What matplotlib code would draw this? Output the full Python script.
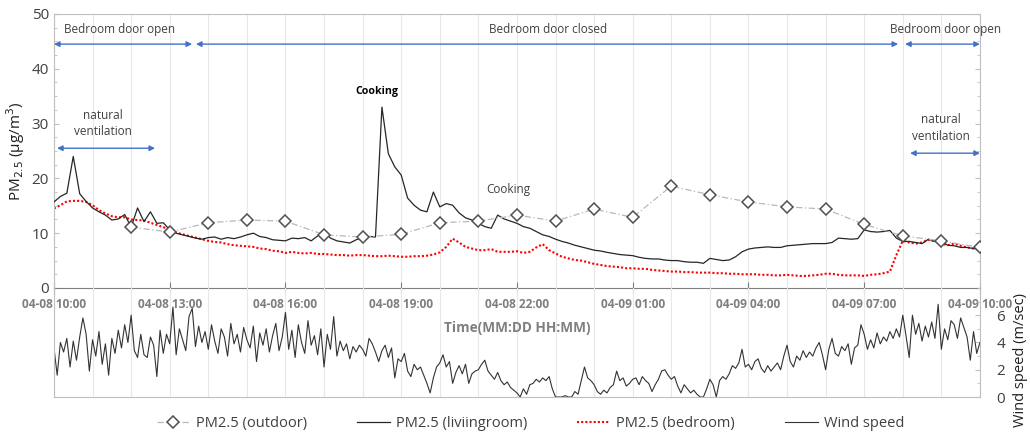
import numpy as np
import matplotlib.pyplot as plt
from matplotlib.ticker import MultipleLocator

plt.rcParams['font.family'] = ['Open Sans', 'DejaVu Sans']

# time axis: hours after 04-08 10:00
tick_labels = ['04-08 10:00', '04-08 13:00', '04-08 16:00', '04-08 19:00', '04-08 22:00',
               '04-09 01:00', '04-09 04:00', '04-09 07:00', '04-09 10:00']

# outdoor PM2.5, hourly from 12:00 to 10:00 next day
outdoor_hours = list(range(2, 25))
outdoor = [11.1, 10.2, 11.9, 12.4, 12.2, 9.7, 9.3, 9.8, 11.9, 12.2, 13.3, 12.2,
           14.4, 12.9, 18.6, 17.0, 15.7, 14.8, 14.4, 11.6, 9.5, 8.6, 7.4]

# living room PM2.5, every 10 min
livingroom = [15.7, 16.7, 17.3, 24.0, 17.2, 15.8,
              14.6, 13.9, 13.3, 12.4, 12.6, 13.4,
              11.1, 14.6, 12.1, 13.9, 11.8, 11.9,
              10.6, 10.0, 9.7, 9.4, 9.1, 8.9,
              9.2, 9.3, 8.9, 9.2, 9.0, 9.3,
              9.7, 10.0, 9.4, 9.2, 8.8, 8.7,
              8.6, 9.1, 9.0, 9.2, 8.6, 9.5,
              10.5, 9.1, 8.6, 8.4, 8.2, 8.8,
              9.2, 9.4, 9.3, 33.0, 24.5, 22.1,
              20.6, 16.4, 15.1, 14.2, 13.9, 17.5,
              14.8, 15.4, 15.1, 13.7, 12.8, 12.4,
              11.8, 11.2, 10.9, 13.3, 12.6, 12.2,
              11.8, 11.2, 10.9, 10.3, 9.7, 9.4,
              8.9, 8.5, 8.2, 7.8, 7.5, 7.2,
              6.9, 6.75, 6.5, 6.3, 6.1, 6.0,
              5.9, 5.6, 5.4, 5.3, 5.3, 5.1,
              5.0, 5.0, 4.8, 4.7, 4.7, 4.5,
              5.4, 5.2, 5.0, 5.1, 5.7, 6.6,
              7.1, 7.3, 7.4, 7.5, 7.4, 7.4,
              7.7, 7.8, 7.9, 8.0, 8.1, 8.1,
              8.1, 8.3, 9.1, 9.0, 8.9, 9.0,
              10.6, 10.3, 10.2, 10.3, 10.5, 9.1,
              8.5, 8.5, 8.3, 8.1, 8.9, 8.5,
              8.5, 7.8, 7.7, 7.4, 7.4, 7.2,
              7.1]

# bedroom PM2.5, every 10 min
bedroom = [14.5, 15.1, 15.8, 15.9, 15.9, 15.7,
           15.1, 14.2, 13.6, 13.1, 12.9, 12.9,
           12.5, 12.4, 12.3, 11.9, 11.5, 11.1,
           10.6, 10.1, 9.8, 9.5, 9.2, 8.9,
           8.6, 8.4, 8.3, 8.0, 7.8, 7.7,
           7.6, 7.5, 7.2, 7.1, 6.8, 6.7,
           6.4, 6.6, 6.4, 6.3, 6.4, 6.2,
           6.2, 6.1, 6.0, 6.0, 5.9, 6.0,
           6.0, 5.9, 5.8, 5.8, 5.9, 5.8,
           5.7, 5.7, 5.8, 5.8, 5.9, 6.1,
           6.5, 7.5, 9.0, 8.3, 7.5, 7.2,
           6.9, 6.9, 7.1, 6.6, 6.6, 6.6,
           6.7, 6.4, 6.6, 7.4, 8.0, 6.9,
           6.3, 5.7, 5.4, 5.1, 5.0, 4.7,
           4.4, 4.2, 4.0, 3.9, 3.8, 3.6,
           3.6, 3.5, 3.5, 3.3, 3.2, 3.1,
           3.0, 3.0, 2.9, 2.9, 2.8, 2.8,
           2.8, 2.7, 2.7, 2.6, 2.6, 2.5,
           2.5, 2.5, 2.4, 2.4, 2.3, 2.3,
           2.4, 2.3, 2.2, 2.2, 2.3, 2.4,
           2.6, 2.6, 2.4, 2.3, 2.3, 2.3,
           2.2, 2.4, 2.5, 2.7, 3.0, 6.0,
           8.6, 8.3, 8.1, 8.3, 8.8, 8.5,
           8.1, 7.8, 8.1, 7.7, 7.4, 7.2,
           6.9]

# wind speed (m/s), every 5 min
wind = [3.6, 1.6, 4.0, 3.3, 4.3, 2.2, 4.1, 2.7, 4.4, 5.8, 4.6, 1.9,
        4.2, 3.0, 4.8, 2.4, 3.9, 1.6, 4.3, 3.2, 4.9, 3.6, 5.3, 4.0,
        6.0, 3.4, 2.9, 4.6, 3.1, 2.9, 4.4, 3.8, 1.5, 4.9, 3.2, 4.6,
        3.9, 6.6, 3.1, 5.0, 4.2, 3.4, 5.9, 6.5, 3.7, 5.2, 4.0, 4.8,
        3.5, 5.3, 4.1, 3.2, 5.0, 4.4, 3.0, 5.4, 3.9, 4.6, 3.3, 5.1,
        4.2, 3.6, 5.2, 2.6, 4.7, 3.8, 5.0, 3.3, 4.5, 5.4, 3.4, 4.4,
        6.2, 3.5, 4.9, 2.9, 5.3, 4.0, 3.2, 5.6, 3.8, 4.5, 3.1, 5.0,
        2.2, 4.6, 3.5, 5.9, 3.0, 4.1, 3.4, 3.9, 2.8, 3.7, 3.3, 3.8,
        3.5, 3.0, 4.3, 3.9, 3.3, 2.6, 3.4, 3.8, 2.9, 3.6, 1.4, 2.8,
        2.6, 3.2, 1.9, 1.5, 2.4, 2.0, 2.2, 1.6, 1.0, 0.3, 1.4, 2.2,
        2.5, 3.1, 2.2, 2.6, 1.0, 1.8, 2.3, 1.7, 2.4, 1.0, 1.7, 1.9,
        2.0, 2.4, 2.7, 1.9, 1.6, 1.3, 1.8, 1.2, 0.9, 1.1, 0.7, 0.5,
        0.3, 0.0, 0.6, 0.2, 0.9, 1.0, 1.3, 1.1, 1.4, 1.2, 1.5, 0.6,
        0.0, 0.0, 0.0, 0.1, 0.0, 0.0, 0.4, 0.2, 1.2, 2.2, 1.4, 1.2,
        0.9, 0.4, 0.2, 0.5, 0.3, 0.7, 0.9, 1.9, 1.2, 1.4, 0.8, 1.0,
        1.3, 1.4, 0.9, 1.5, 1.2, 1.0, 0.4, 0.9, 1.3, 1.9, 2.0, 1.6,
        1.3, 1.5, 0.8, 0.3, 0.9, 0.6, 0.3, 0.5, 0.2, 0.0, 0.0, 0.6,
        1.3, 0.9, 0.0, 1.2, 1.5, 1.3, 1.7, 2.3, 2.1, 2.5, 3.5, 2.2,
        2.4, 2.0, 2.6, 2.8, 2.1, 1.8, 2.3, 1.9, 2.2, 2.5, 2.0, 3.0,
        3.8, 2.6, 2.2, 3.0, 2.7, 3.4, 2.9, 3.3, 3.0, 3.6, 4.0, 3.1,
        2.0, 3.5, 4.3, 3.2, 3.0, 3.7, 3.4, 3.9, 2.4, 3.6, 3.8, 5.3,
        4.6, 3.5, 4.2, 3.6, 4.7, 3.9, 4.4, 4.1, 4.8, 4.3, 5.0, 4.4,
        6.0, 4.5, 2.9, 6.0, 4.6, 5.4, 4.1, 5.2, 4.4, 5.5, 4.3, 6.8,
        3.5, 5.0, 4.2, 5.6, 5.3, 4.3, 5.8, 5.1, 4.4, 2.7, 4.8, 3.2,
        4.0]

t10 = np.arange(len(livingroom)) / 6.0
t5 = np.arange(len(wind)) / 12.0

txt = '#404040'
blue = '#4472C4'
fs = 8.5

fig = plt.figure(figsize=(10.3, 4.38), dpi=100)
ax1 = fig.add_axes([0.0524, 0.3425, 0.899, 0.6256])
ax2 = fig.add_axes([0.0524, 0.0936, 0.899, 0.249], sharex=ax1)
ax2.patch.set_visible(False)

l_out, = ax1.plot(outdoor_hours, outdoor, color='#b8b8b8', lw=0.9, ls=(0, (5, 2, 1, 2)),
                  marker='D', ms=6.5, mfc='white', mec='#505050', mew=1.1, zorder=4)
l_lr, = ax1.plot(t10, livingroom, color='#262626', lw=0.9, zorder=3)
l_bed, = ax1.plot(t10, bedroom, color='red', lw=1.5, ls=(0, (1, 1)), zorder=2)
l_wind, = ax2.plot(t5, wind, color='#333333', lw=0.8)

ax1.set_xlim(0, 24)
ax1.set_ylim(0, 50)
ax1.set_yticks(range(0, 51, 10))
ax1.yaxis.set_minor_locator(MultipleLocator(2.5))
ax1.set_xticks(range(0, 25, 3))
ax1.set_xticklabels(tick_labels, fontweight='bold', color='#7f7f7f', fontsize=8.6)
ax1.xaxis.set_minor_locator(MultipleLocator(1))
ax1.tick_params(axis='x', which='major', direction='inout', length=8, pad=3, color='#7f7f7f')
ax1.tick_params(axis='x', which='minor', direction='out', length=4, color='#7f7f7f')
ax1.tick_params(axis='y', which='both', direction='in', color='#bfbfbf', labelcolor=txt, labelsize=11)
ax1.tick_params(axis='y', which='both', right=True)
ax1.grid(axis='x', which='both', color='#e8e8e8', lw=0.8)
for s in ['top', 'right', 'left']:
    ax1.spines[s].set_color('#bfbfbf')
ax1.spines['bottom'].set_color('#7f7f7f')
ax1.set_ylabel('PM$_{2.5}$ (μg/m$^3$)', fontsize=11, color='#202020')
ax1.yaxis.set_label_coords(-0.029, 0.5)

ax2.set_ylim(0, 8)
ax2.yaxis.tick_right()
ax2.set_yticks([0, 2, 4, 6])
ax2.yaxis.set_minor_locator(MultipleLocator(1))
ax2.tick_params(axis='y', which='both', direction='in', color='#bfbfbf', labelcolor=txt, labelsize=11, pad=12)
ax2.tick_params(axis='x', which='both', bottom=False, labelbottom=False)
ax2.grid(axis='x', which='both', color='#e8e8e8', lw=0.8)
ax2.spines['top'].set_visible(False)
for s in ['bottom', 'right', 'left']:
    ax2.spines[s].set_color('#bfbfbf')
# wind label sits to the right of the axis, a bit below centre as in the original
fig.text(1020 / 1030, 1 - 360 / 438, 'Wind speed (m/sec)', rotation=90, ha='center', va='center',
         fontsize=10.5, color='#202020')

# annotations
arrow = dict(arrowstyle='<|-|>', color=blue, lw=1, mutation_scale=8, shrinkA=0, shrinkB=0)
ax1.annotate('', xy=(0, 44.5), xytext=(3.58, 44.5), arrowprops=arrow)
ax1.annotate('', xy=(3.68, 44.5), xytext=(21.88, 44.5), arrowprops=arrow)
ax1.annotate('', xy=(22.06, 44.5), xytext=(24, 44.5), arrowprops=arrow, annotation_clip=False)
ax1.annotate('', xy=(0.08, 25.5), xytext=(2.62, 25.5), arrowprops=arrow)
ax1.annotate('', xy=(22.19, 24.6), xytext=(24, 24.6), arrowprops=arrow, annotation_clip=False)

ax1.text(1.71, 47.2, 'Bedroom door open', ha='center', va='center', fontsize=fs, color=txt)
ax1.text(12.8, 47.2, 'Bedroom door closed', ha='center', va='center', fontsize=fs, color=txt)
ax1.text(23.12, 47.2, 'Bedroom door open', ha='center', va='center', fontsize=fs, color=txt)
ax1.text(1.27, 30.0, 'natural\nventilation', ha='center', va='center', fontsize=fs,
         color=txt, linespacing=1.35)
ax1.text(23.0, 29.2, 'natural\nventilation', ha='center', va='center', fontsize=fs,
         color=txt, linespacing=1.35)
ax1.text(8.37, 35.9, 'Cooking', ha='center', va='center', fontsize=7.6, fontweight='bold', color='black')
ax1.text(11.77, 17.9, 'Cooking', ha='center', va='center', fontsize=fs, color=txt)

fig.text(517 / 1030, 1 - 328 / 438, 'Time(MM:DD HH:MM)', ha='center', va='center',
         fontsize=9.8, fontweight='bold', color='#7f7f7f')

fig.legend([l_out, l_lr, l_bed, l_wind],
           ['PM2.5 (outdoor)', 'PM2.5 (liviingroom)', 'PM2.5 (bedroom)', 'Wind speed'],
           loc='lower center', bbox_to_anchor=(0.515, -0.015), ncol=4, frameon=False,
           columnspacing=3.4, handlelength=2.3, handletextpad=0.4, fontsize=10.5, labelcolor=txt)

fig.savefig('out.png', dpi=100)
